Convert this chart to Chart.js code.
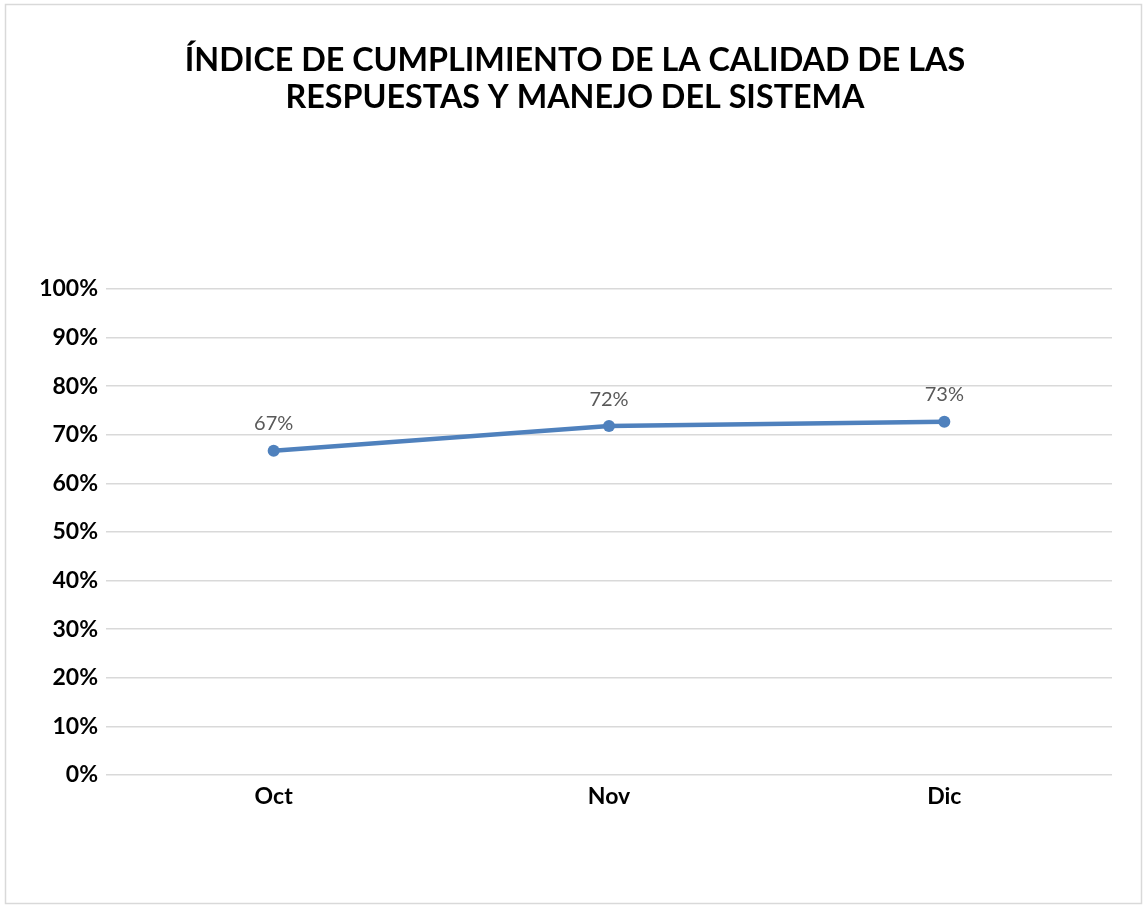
<!DOCTYPE html>
<html>
<head>
<meta charset="utf-8">
<script src="https://cdn.jsdelivr.net/npm/chart.js@4/dist/chart.umd.min.js"></script>
<style>
  html, body { margin: 0; padding: 0; background: #fff; }
  #wrap { width: 1143px; height: 905px; position: relative; }
</style>
</head>
<body>
<div id="wrap"><canvas id="c" width="1143" height="905"></canvas></div>
<script>
const categories = ["Oct", "Nov", "Dic"];
const values = [0.667, 0.718, 0.727];
const valueLabels = ["67%", "72%", "73%"];
const titleLines = ["ÍNDICE DE CUMPLIMIENTO DE LA CALIDAD DE LAS", "RESPUESTAS Y MANEJO DEL SISTEMA"];

const FONT = "Lato, 'Liberation Sans', sans-serif";

const borderPlugin = {
  id: 'outerBorder',
  beforeDraw(chart) {
    const ctx = chart.ctx;
    ctx.save();
    ctx.fillStyle = '#ffffff';
    ctx.fillRect(0, 0, chart.width, chart.height);
    ctx.strokeStyle = '#d9d9d9';
    ctx.lineWidth = 1.5;
    ctx.strokeRect(5.5, 4.5, 1136, 899);
    ctx.restore();
  }
};

const valueLabelPlugin = {
  id: 'valueLabels',
  afterDatasetsDraw(chart) {
    const ctx = chart.ctx;
    const meta = chart.getDatasetMeta(0);
    ctx.save();
    ctx.font = "20px " + FONT;
    ctx.fillStyle = '#595959';
    ctx.textAlign = 'center';
    ctx.textBaseline = 'middle';
    meta.data.forEach((pt, i) => {
      ctx.fillText(valueLabels[i], pt.x, pt.y - 27);
    });
    ctx.restore();
  }
};

new Chart(document.getElementById('c'), {
  type: 'line',
  data: {
    labels: categories,
    datasets: [{
      data: values,
      borderColor: '#4f81bd',
      backgroundColor: '#4f81bd',
      borderWidth: 4.5,
      pointRadius: 6,
      pointBackgroundColor: '#4f81bd',
      pointBorderWidth: 0,
      tension: 0,
      fill: false
    }]
  },
  options: {
    responsive: false,
    animation: false,
    layout: { padding: { left: 38, right: 31, top: 0, bottom: 90 } },
    plugins: {
      legend: { display: false },
      tooltip: { enabled: false },
      title: {
        display: true,
        text: titleLines,
        color: '#000000',
        font: { family: FONT, size: 32.3, weight: 'bold', lineHeight: 1.146 },
        padding: { top: 42, bottom: 173 }
      }
    },
    scales: {
      x: {
        offset: true,
        grid: { display: false, drawTicks: false },
        border: { display: false },
        ticks: { color: '#000000', font: { family: FONT, size: 23, weight: 'bold' }, padding: 8 },
        afterFit(s) { s.height = 40; }
      },
      y: {
        min: 0,
        max: 1,
        ticks: {
          stepSize: 0.1,
          color: '#000000',
          font: { family: FONT, size: 23, weight: 'bold' },
          padding: 8,
          callback: v => Math.round(v * 100) + '%'
        },
        grid: { color: '#d9d9d9', lineWidth: 1.5, drawTicks: false },
        border: { display: false },
        afterFit(s) { s.width = 68; }
      }
    }
  },
  plugins: [borderPlugin, valueLabelPlugin]
});
</script>
</body>
</html>
